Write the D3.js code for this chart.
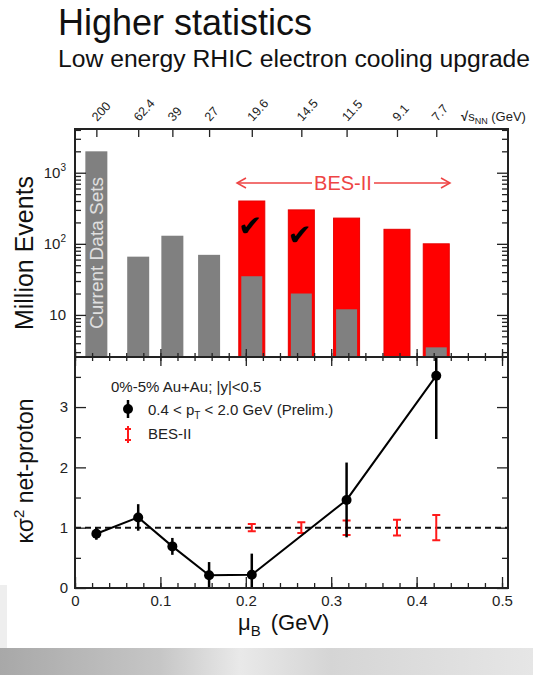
<!DOCTYPE html>
<html>
<head>
<meta charset="utf-8">
<script src="https://cdn.jsdelivr.net/npm/d3@7"></script>
<style>
  body { margin: 0; background: #fff; }
  svg { display: block; font-family: "Liberation Sans", Arial, Helvetica, sans-serif; }
</style>
</head>
<body>
<svg id="chart" width="533" height="675"></svg>
<script>
// beam energies on the top axis and the muB they sit at
const energies = ["200", "62.4", "39", "27", "19.6", "14.5", "11.5", "9.1", "7.7"];
const muB = [0.025, 0.074, 0.114, 0.157, 0.207, 0.265, 0.318, 0.377, 0.423];
// million events: taken so far (gray) and the BES-II goal (red)
const currentEvents = [2000, 66, 130, 70, 35, 20, 12, null, 3.5];
const besEvents = [null, null, null, null, 400, 300, 230, 160, 100];
const checked = ["19.6", "14.5"];

// kappa sigma^2 net-proton, 0-5% Au+Au (prelim.)
const kMu = [0.025, 0.074, 0.114, 0.157, 0.207, 0.318, 0.423];
const kVal = [0.90, 1.17, 0.69, 0.21, 0.22, 1.46, 3.52];
const kErr = [0.10, 0.22, 0.14, 0.22, 0.35, 0.62, 1.05];
// projected BES-II errors
const besMu = [0.207, 0.265, 0.318, 0.377, 0.423];
const besVal = [1, 1, 1, 1, 1];
const besErr = [0.06, 0.09, 0.12, 0.13, 0.21];

const xTicks = [0, 0.1, 0.2, 0.3, 0.4, 0.5];
const kTicks = [0, 1, 2, 3];
const logTicks = [10, 100, 1000];

const svg = d3.select("#chart");
const L = 75, R = 508, T1 = 129, M = 357, B = 588;
const ink = "#222";

const x = d3.scaleLinear().domain([0, 0.507]).range([L, R]);
const yEv = d3.scaleLog().domain([2.56, 4120]).range([M, T1]);
const yK = d3.scaleLinear().domain([0, 3.83]).range([B, M]);

// slide header
svg.append("text").attr("x", 58).attr("y", 35).attr("font-size", 36).attr("fill", "#111").text("Higher statistics");
svg.append("text").attr("x", 58).attr("y", 67).attr("font-size", 24.7).attr("fill", "#111").text("Low energy RHIC electron cooling upgrade");

// bottom slide decoration
const defs = svg.append("defs");
const grad = defs.append("linearGradient").attr("id", "band");
[[0, "#a8a8a8"], [0.3, "#c6c6c6"], [0.45, "#e9e9e9"], [0.62, "#d5d5d5"], [1, "#e6e6e6"]].forEach(s =>
  grad.append("stop").attr("offset", s[0]).attr("stop-color", s[1]));
svg.append("rect").attr("x", 0).attr("y", 648).attr("width", 533).attr("height", 27).attr("fill", "url(#band)");
svg.append("rect").attr("x", 0).attr("y", 585).attr("width", 7).attr("height", 63).attr("fill", "#eeeeee");

defs.append("clipPath").attr("id", "lowclip").append("rect")
  .attr("x", L).attr("y", M).attr("width", R - L).attr("height", B - M);

//helper: draw ticks only, no domain line, no labels unless asked
function ticks(g, axis) {
  g.call(axis).call(s => s.select(".domain").remove());
  g.selectAll(".tick line").attr("stroke", ink).attr("stroke-width", 1.3);
  g.attr("font-family", null).attr("font-size", 15);
  g.selectAll(".tick text").attr("fill", ink);
  return g;
}

// ---------- upper panel: events ----------
const up = svg.append("g");
energies.forEach((e, i) => {
  const cx = x(muB[i]);
  if (besEvents[i] != null) {
    up.append("rect").attr("x", cx - 13).attr("width", 26)
      .attr("y", yEv(besEvents[i])).attr("height", M - yEv(besEvents[i]))
      .attr("fill", "#ff0000").attr("stroke", "#e60000").attr("stroke-width", 1);
  }
  if (currentEvents[i] != null) {
    const w = besEvents[i] != null ? 21 : 22;
    up.append("rect").attr("x", cx - w / 2).attr("width", w)
      .attr("y", yEv(currentEvents[i])).attr("height", M - yEv(currentEvents[i]))
      .attr("fill", "#808080");
  }
  if (checked.includes(e)) {
    up.append("text").attr("x", cx - 2).attr("y", yEv(besEvents[i]) + 35)
      .attr("text-anchor", "middle").attr("font-family", "DejaVu Sans").attr("font-size", 29)
      .attr("fill", "#000").text("\u2714");
  }
});

up.append("text")
  .attr("transform", `translate(${x(muB[0]) + 7},${253}) rotate(-90)`)
  .attr("text-anchor", "middle").attr("font-size", 19).attr("fill", "#e0e0e0")
  .text("Current Data Sets");

// BES-II arrow
const arrY = 183, a0 = 237, a1 = 450, red = "#ee4444";
const arr = up.append("g").attr("stroke", red).attr("stroke-width", 1.5).attr("fill", "none");
arr.append("path").attr("d", `M${a0},${arrY}H${312}M${374},${arrY}H${a1}`);
arr.append("path").attr("d", `M${a0 + 9},${arrY - 5}L${a0},${arrY}L${a0 + 9},${arrY + 5}`);
arr.append("path").attr("d", `M${a1 - 9},${arrY - 5}L${a1},${arrY}L${a1 - 9},${arrY + 5}`);
up.append("text").attr("x", 343).attr("y", 190).attr("text-anchor", "middle")
  .attr("font-size", 20).attr("fill", red).text("BES-II");

// upper frame + ticks
const minorLog = yEv.ticks().filter(v => !logTicks.includes(v));
ticks(svg.append("g").attr("transform", `translate(${L},0)`), d3.axisLeft(yEv).tickValues(logTicks).tickSize(-11).tickFormat(""));
ticks(svg.append("g").attr("transform", `translate(${L},0)`), d3.axisLeft(yEv).tickValues(minorLog).tickSize(-6).tickFormat(""));
ticks(svg.append("g").attr("transform", `translate(${R},0)`), d3.axisRight(yEv).tickValues(logTicks).tickSize(-11).tickFormat(""));
ticks(svg.append("g").attr("transform", `translate(${R},0)`), d3.axisRight(yEv).tickValues(minorLog).tickSize(-6).tickFormat(""));
ticks(svg.append("g").attr("transform", `translate(0,${M})`), d3.axisBottom(x).tickValues(xTicks).tickSize(-8).tickFormat(""));
ticks(svg.append("g").attr("transform", `translate(0,${M})`), d3.axisBottom(x).tickValues(d3.range(0, 0.507, 0.02)).tickSize(-4).tickFormat(""));
ticks(svg.append("g").attr("transform", `translate(0,${T1})`), d3.axisTop(x).tickValues(muB).tickSize(-8).tickFormat(""));

// log labels with superscripts
logTicks.forEach(v => {
  const t = svg.append("text").attr("x", 66).attr("y", yEv(v) + 5).attr("text-anchor", "end")
    .attr("font-size", 15).attr("fill", ink);
  const p = Math.round(Math.log10(v));
  if (p === 1) { t.text("10"); return; }
  t.append("tspan").text("10");
  t.append("tspan").attr("dy", -7).attr("font-size", 10).text(p);
});

// top energy labels
energies.forEach((e, i) => {
  svg.append("text").attr("transform", `translate(${x(muB[i]) + 1},122) rotate(-48)`)
    .attr("font-size", 12.5).attr("fill", ink).text(e);
});
const sq = svg.append("text").attr("x", 461).attr("y", 121).attr("font-size", 13).attr("fill", ink);
sq.append("tspan").attr("font-weight", "bold").text("\u221A");
sq.append("tspan").text("s");
sq.append("tspan").attr("dy", 3).attr("font-size", 9).text("NN");
sq.append("tspan").attr("dy", -3).text(" (GeV)");

svg.append("rect").attr("x", L).attr("y", T1).attr("width", R - L).attr("height", M - T1)
  .attr("fill", "none").attr("stroke", ink).attr("stroke-width", 2);

svg.append("text").attr("transform", `translate(33,253) rotate(-90)`)
  .attr("text-anchor", "middle").attr("font-size", 25).attr("fill", "#111").text("Million Events");

// ---------- lower panel: kappa sigma^2 ----------
const low = svg.append("g").attr("clip-path", "url(#lowclip)");
low.append("line").attr("x1", L).attr("x2", R).attr("y1", yK(1)).attr("y2", yK(1))
  .attr("stroke", "#111").attr("stroke-width", 2).attr("stroke-dasharray", "6,4");

// BES-II projected errors
besMu.forEach((m, i) => {
  const cx = x(m), y0 = yK(besVal[i] - besErr[i]), y1 = yK(besVal[i] + besErr[i]);
  low.append("path").attr("d", `M${cx},${y0}V${y1}M${cx - 4},${y0}H${cx + 4}M${cx - 4},${y1}H${cx + 4}`)
    .attr("stroke", "#ff1a1a").attr("stroke-width", 2).attr("fill", "none");
});

const line = d3.line().x(d => x(d[0])).y(d => yK(d[1]));
low.append("path").datum(kMu.map((m, i) => [m, kVal[i]])).attr("d", line)
  .attr("fill", "none").attr("stroke", "#000").attr("stroke-width", 2);
kMu.forEach((m, i) => {
  low.append("line").attr("x1", x(m)).attr("x2", x(m))
    .attr("y1", yK(kVal[i] - kErr[i])).attr("y2", yK(kVal[i] + kErr[i]))
    .attr("stroke", "#000").attr("stroke-width", 2.5);
  low.append("circle").attr("cx", x(m)).attr("cy", yK(kVal[i])).attr("r", 5).attr("fill", "#000");
});

// legend
svg.append("text").attr("x", 111).attr("y", 392).attr("font-size", 15).attr("fill", ink).text("0%-5% Au+Au; |y|<0.5");
svg.append("line").attr("x1", 128).attr("x2", 128).attr("y1", 400).attr("y2", 418).attr("stroke", "#000").attr("stroke-width", 2.5);
svg.append("circle").attr("cx", 128).attr("cy", 409).attr("r", 5).attr("fill", "#000");
const lg = svg.append("text").attr("x", 148).attr("y", 415).attr("font-size", 15).attr("fill", ink);
lg.append("tspan").text("0.4 < p");
lg.append("tspan").attr("dy", 4).attr("font-size", 10).text("T");
lg.append("tspan").attr("dy", -4).text(" < 2.0 GeV (Prelim.)");
svg.append("path").attr("d", "M128,426V443M125,429H131M125,440H131")
  .attr("stroke", "#ff1a1a").attr("stroke-width", 2).attr("fill", "none");
svg.append("text").attr("x", 148).attr("y", 439).attr("font-size", 15).attr("fill", ink).text("BES-II");

// lower frame + ticks
ticks(svg.append("g").attr("transform", `translate(0,${B})`),
  d3.axisBottom(x).tickValues(xTicks).tickSize(-11).tickPadding(7).tickFormat(d => d === 0 ? "0" : d3.format(".1f")(d)));
ticks(svg.append("g").attr("transform", `translate(0,${B})`), d3.axisBottom(x).tickValues(d3.range(0, 0.507, 0.02)).tickSize(-5).tickFormat(""));
ticks(svg.append("g").attr("transform", `translate(0,${M})`), d3.axisTop(x).tickValues(xTicks).tickSize(-9).tickFormat(""));
ticks(svg.append("g").attr("transform", `translate(0,${M})`), d3.axisTop(x).tickValues(d3.range(0, 0.507, 0.02)).tickSize(-4).tickFormat(""));
ticks(svg.append("g").attr("transform", `translate(${L},0)`),
  d3.axisLeft(yK).tickValues(kTicks).tickSize(-11).tickPadding(7).tickFormat(d3.format("d")));
ticks(svg.append("g").attr("transform", `translate(${L},0)`), d3.axisLeft(yK).tickValues(d3.range(0.5, 3.83, 1)).tickSize(-6).tickFormat(""));
ticks(svg.append("g").attr("transform", `translate(${R},0)`), d3.axisRight(yK).tickValues(kTicks).tickSize(-11).tickFormat(""));
ticks(svg.append("g").attr("transform", `translate(${R},0)`), d3.axisRight(yK).tickValues(d3.range(0.5, 3.83, 1)).tickSize(-6).tickFormat(""));

svg.append("rect").attr("x", L).attr("y", M).attr("width", R - L).attr("height", B - M)
  .attr("fill", "none").attr("stroke", ink).attr("stroke-width", 2);

const yt = svg.append("text").attr("transform", `translate(33,471) rotate(-90)`)
  .attr("text-anchor", "middle").attr("font-size", 23).attr("fill", "#111");
yt.append("tspan").text("\u03BA\u03C3");
yt.append("tspan").attr("dy", -9).attr("font-size", 15).text("2");
yt.append("tspan").attr("dy", 9).text(" net-proton");

const xt = svg.append("text").attr("x", 238).attr("y", 630).attr("font-size", 22).attr("fill", "#111");
xt.append("tspan").text("\u03BC");
xt.append("tspan").attr("dy", 6).attr("font-size", 15).text("B");
xt.append("tspan").attr("dy", -6).attr("dx", 10).text("(GeV)");
</script>
</body>
</html>
